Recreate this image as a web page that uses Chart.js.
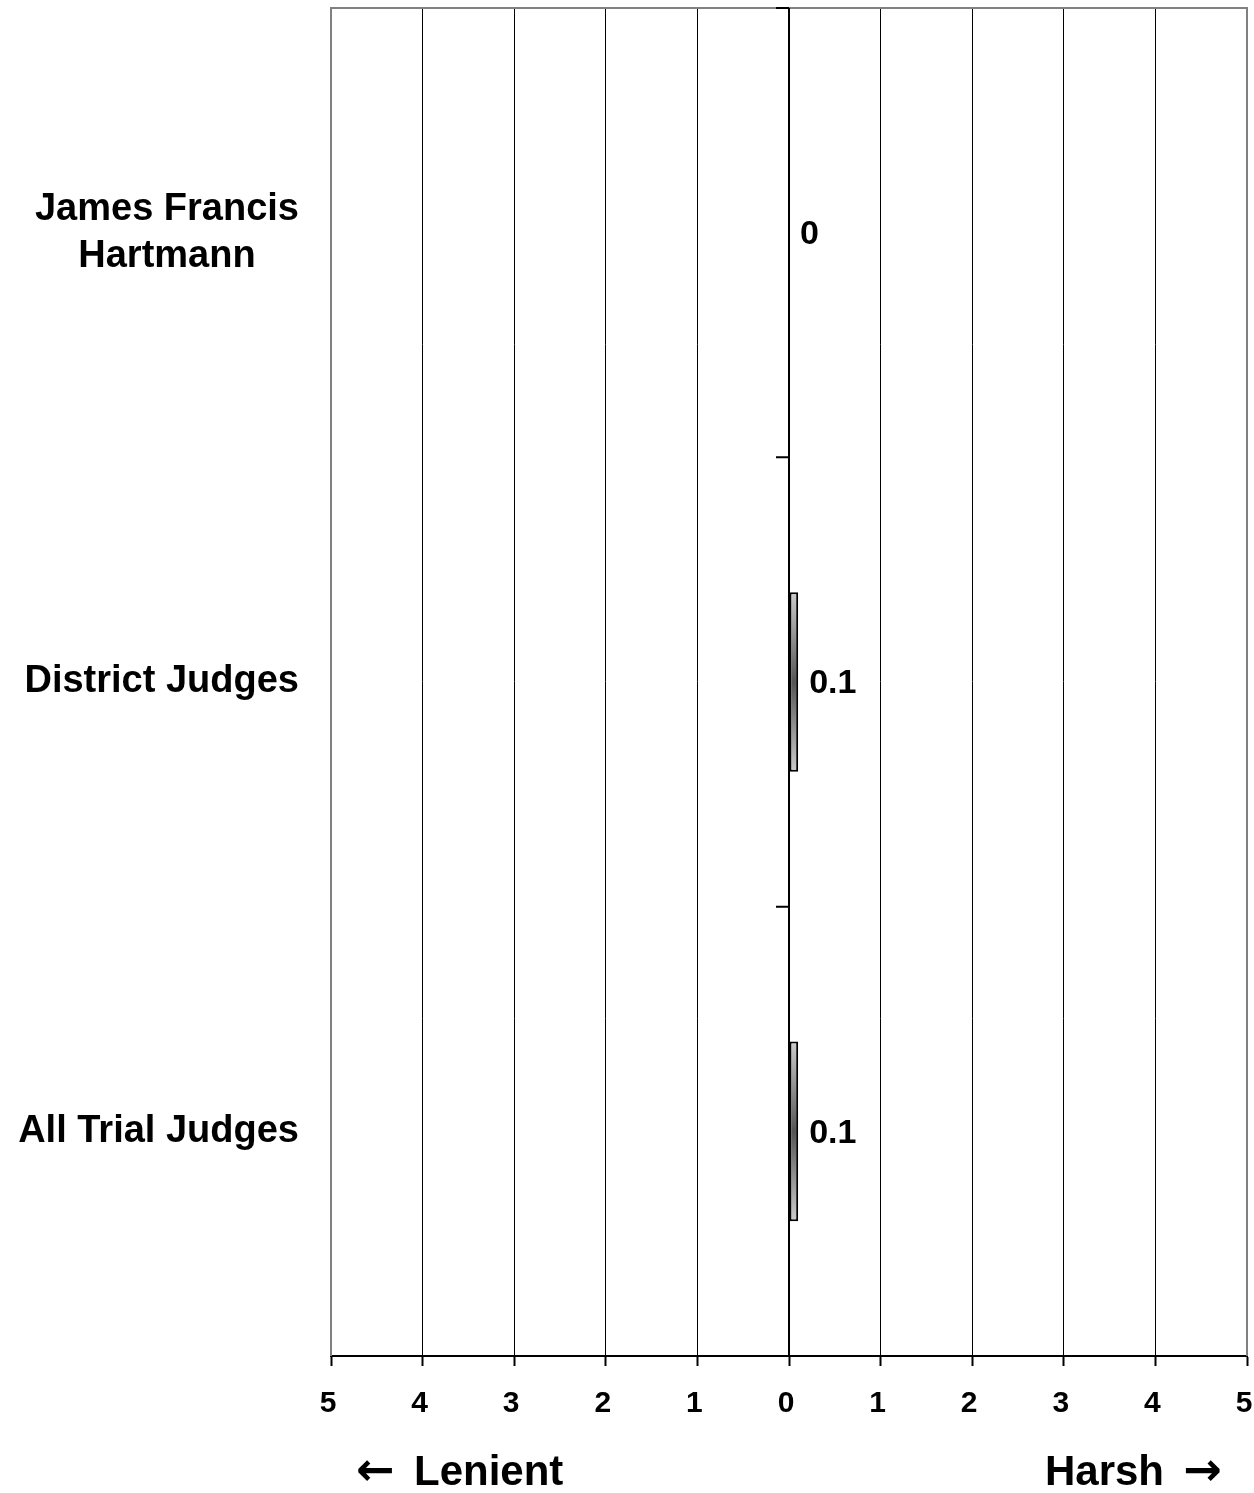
<!DOCTYPE html>
<html>
<head>
<meta charset="utf-8">
<script src="https://cdn.jsdelivr.net/npm/chart.js@4/dist/chart.umd.min.js"></script>
<style>
  html,body{margin:0;padding:0;background:#fff;}
  #wrap{width:1254px;height:1493px;}
</style>
</head>
<body>
<div id="wrap"><canvas id="chart" width="1254" height="1493"></canvas></div>
<script>
const judges = [["James Francis","Hartmann"], "District Judges", "All Trial Judges"];
const scores = [0, 0.1, 0.1];
const scoreText = ["0", "0.1", "0.1"];
const xTicks = [-5,-4,-3,-2,-1,0,1,2,3,4,5];
const leftWord = "Lenient", rightWord = "Harsh";
const leftArrow = "\u2190", rightArrow = "\u2192";

const FONT = "Arial, 'Liberation Sans', sans-serif";
const ARROW_FONT = "'DejaVu Sans', sans-serif";

function barFill(ctx){
  const c = ctx.chart, y = c.scales.y;
  if(!c.chartArea || !y) return "#888";
  const mid = y.getPixelForValue(ctx.dataIndex);
  const half = (y.height / judges.length) * 0.4 / 2;
  const g = c.ctx.createLinearGradient(0, mid-half, 0, mid+half);
  g.addColorStop(0, "#cccccc");
  g.addColorStop(0.5, "#555555");
  g.addColorStop(1, "#cccccc");
  return g;
}

const decor = {
  id:"decor",
  afterDatasetsDraw(c){
    const {ctx, chartArea:a, scales:{x,y}} = c;
    ctx.save();
    // plot frame top/left/right
    ctx.strokeStyle = "#808080"; ctx.lineWidth = 2;
    ctx.beginPath();
    ctx.moveTo(a.left, a.bottom); ctx.lineTo(a.left, a.top); ctx.lineTo(a.right, a.top); ctx.lineTo(a.right, a.bottom);
    ctx.stroke();
    // category axis at zero
    const x0 = x.getPixelForValue(0);
    ctx.strokeStyle = "#000"; ctx.lineWidth = 2;
    ctx.beginPath(); ctx.moveTo(x0, a.top); ctx.lineTo(x0, a.bottom); ctx.stroke();
    const step = y.height / judges.length;
    ctx.beginPath();
    for(let i=0;i<judges.length;i++){
      const yy = a.top + i*step;
      ctx.moveTo(x0-13, yy); ctx.lineTo(x0, yy);
    }
    ctx.stroke();
    // category labels
    ctx.fillStyle = "#000";
    ctx.font = "bold 38px " + FONT;
    ctx.textBaseline = "middle";
    ctx.textAlign = "center";
    judges.forEach((lab,i)=>{
      const lines = Array.isArray(lab) ? lab : [lab];
      const w = Math.max(...lines.map(l=>ctx.measureText(l).width));
      const cx = a.left - 32 - w/2;
      const cy = y.getPixelForValue(i);
      const lh = 47;
      lines.forEach((l,k)=>{
        ctx.fillText(l, cx, cy + (k - (lines.length-1)/2)*lh);
      });
    });
    // value labels
    ctx.font = "bold 34px " + FONT;
    ctx.textAlign = "left";
    const meta = c.getDatasetMeta(0);
    meta.data.forEach((bar,i)=>{
      ctx.fillText(scoreText[i], bar.x + 11, bar.y + 2);
    });
    // direction notes
    const ny = 1473;
    ctx.font = "bold 46px " + ARROW_FONT;
    ctx.textAlign = "left";
    ctx.fillText(leftArrow, 356, ny);
    ctx.textAlign = "right";
    ctx.fillText(rightArrow, 1222, ny);
    ctx.font = "bold 42px " + FONT;
    ctx.textAlign = "left";
    ctx.fillText(leftWord, 414, ny);
    ctx.textAlign = "right";
    ctx.fillText(rightWord, 1164, ny);
    ctx.restore();
  }
};

new Chart(document.getElementById("chart"), {
  type:"bar",
  data:{
    labels: judges,
    datasets:[{
      data: scores,
      backgroundColor: barFill,
      borderColor:"#000",
      borderWidth:2,
      borderSkipped:false,
      barPercentage:0.4,
      categoryPercentage:1
    }]
  },
  options:{
    indexAxis:"y",
    responsive:false,
    animation:false,
    devicePixelRatio:1,
    layout:{padding:{top:8, right:7, left:0, bottom:0}},
    plugins:{legend:{display:false}, tooltip:{enabled:false}},
    scales:{
      x:{
        min:-5, max:5,
        afterBuildTicks(s){ s.ticks = xTicks.map(v=>({value:v})); },
        ticks:{
          callback:v=>String(Math.abs(v)),
          color:"#000",
          font:{family:FONT, size:30, weight:"bold"},
          padding:20,
          labelOffset:-3,
          maxRotation:0
        },
        grid:{
          color:ctx=>(ctx.tick && Math.abs(ctx.tick.value)===5) ? "#808080" : "#000",
          lineWidth:1,
          tickLength:10,
          tickColor:"#000",
          tickWidth:2
        },
        border:{color:"#000", width:2},
        afterFit(s){ s.height = 137; s.paddingLeft = 0; s.paddingRight = 0; }
      },
      y:{
        ticks:{display:false},
        grid:{display:false},
        border:{display:false},
        afterFit(s){ s.width = 331; }
      }
    }
  },
  plugins:[decor]
});
</script>
</body>
</html>
